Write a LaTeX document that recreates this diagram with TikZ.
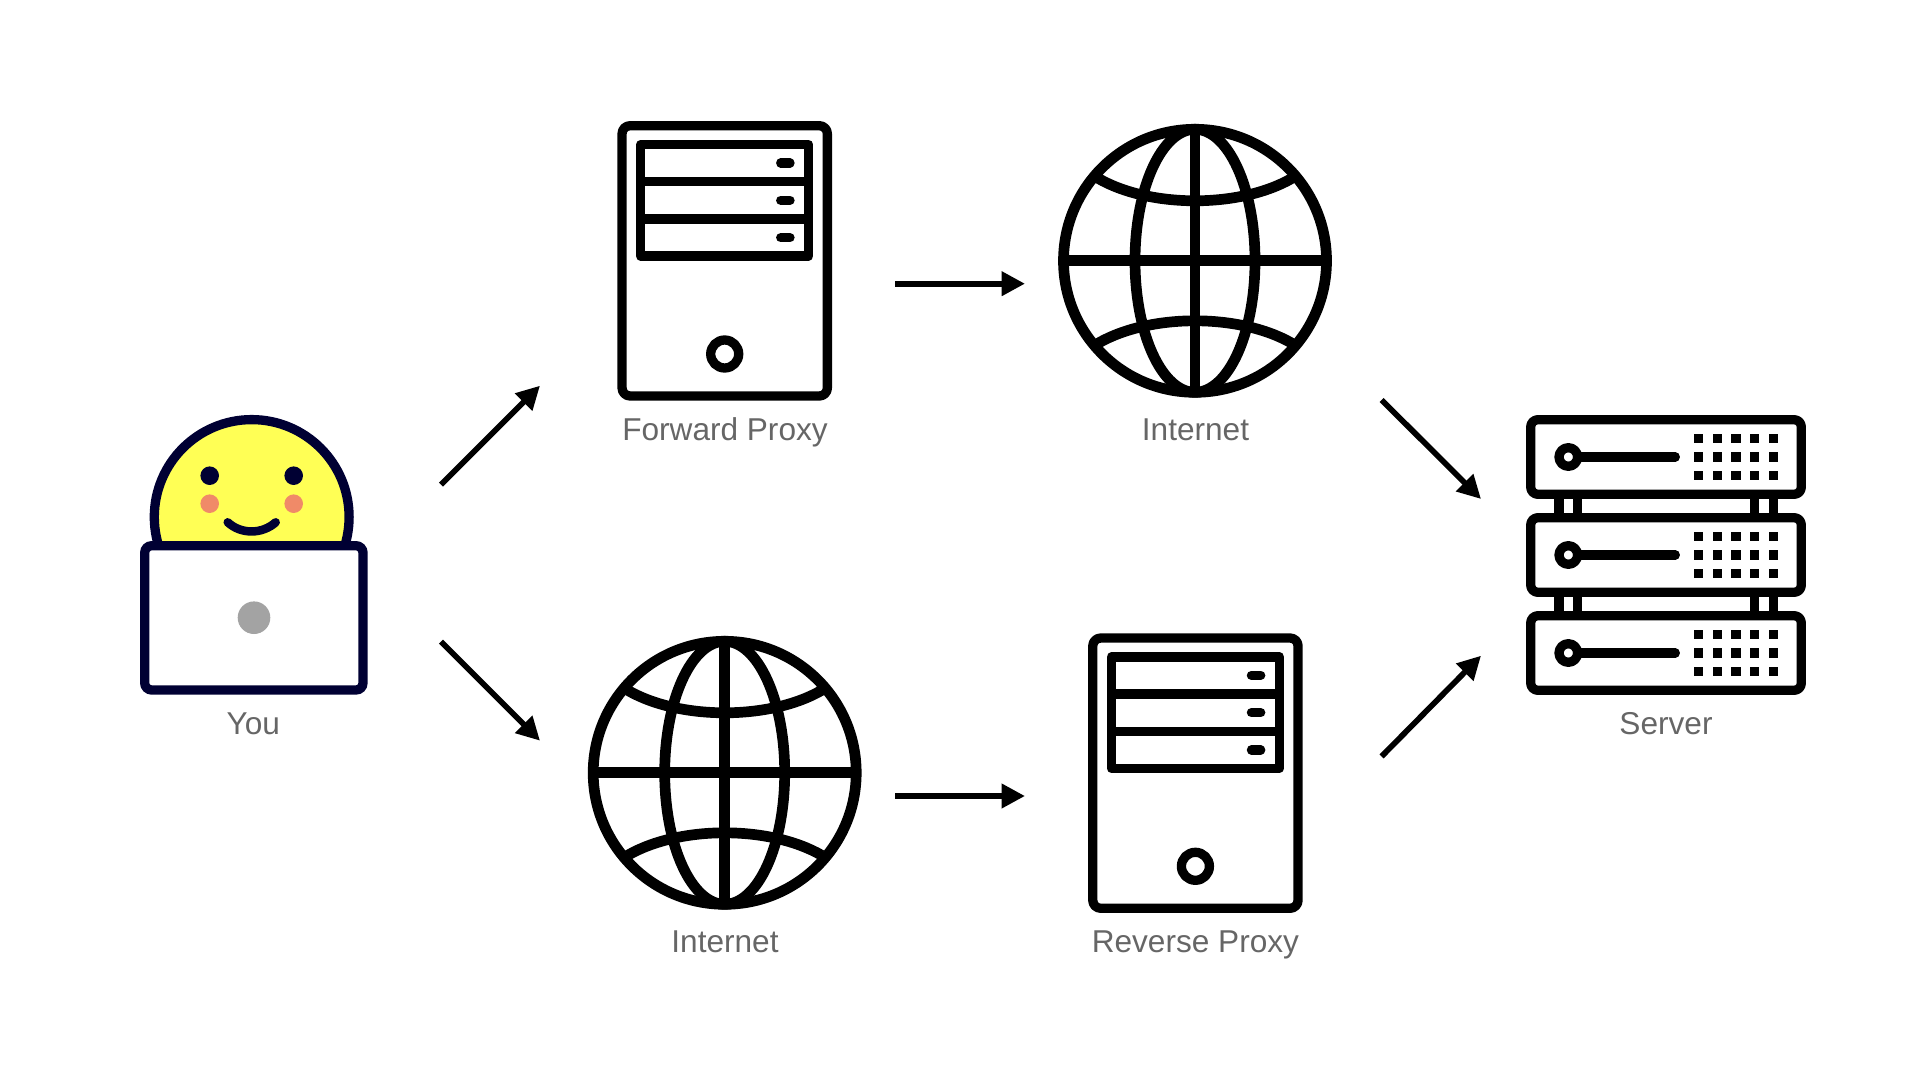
\documentclass[tikz,border=0pt]{standalone}
\usepackage{fontspec}
\usepackage{xcolor}
\usetikzlibrary{arrows.meta}
\setmainfont{Liberation Sans}

\definecolor{navyline}{HTML}{000033}
\definecolor{faceyellow}{HTML}{FFFF55}
\definecolor{cheekpink}{HTML}{F08A68}
\definecolor{dotgray}{HTML}{A3A3A3}
\definecolor{labelgray}{HTML}{666666}

\tikzset{
    iconline/.style={line width=4.65pt, line join=round},
    globeline/.style={line width=5.35pt},
    caption/.style={anchor=base, text=labelgray, font=\fontsize{15.8}{19}\selectfont, inner sep=0pt},
    flow/.style={line width=2.85pt, -{Triangle[length=11.65pt,width=11.65pt]}}
}

% Tower with three drive bays, #1 is its centre
\newcommand{\proxyicon}[1]{
    \begin{scope}[shift={(#1)}]
        \draw[iconline, rounded corners=4pt] (-102.65,-135.1) rectangle (102.65,135.2);
        \draw[iconline] (-84,-116.1) rectangle (84,-4.8);
        \draw[iconline] (-84,-79.1) -- (84,-79.1);
        \draw[iconline] (-84,-41.8) -- (84,-41.8);
        \foreach \bay in {-97.8,-60.5,-23.1} {
            \draw[iconline, line cap=round] (56,\bay) -- (65.3,\bay);
        }
        \draw[iconline] (0,93.2) circle[radius=14];
    \end{scope}
}

% Wire globe, #1 is its centre
\newcommand{\globeicon}[1]{
    \begin{scope}[shift={(#1)}]
        \draw[globeline] (0,0) circle[radius=131.5];
        \draw[globeline] (0,0) ellipse[x radius=60, y radius=131.5];
        \draw[globeline] (0,-131.5) -- (0,131.5);
        \draw[globeline] (-131.5,0) -- (131.5,0);
        \draw[globeline] (-97,-82.5) .. controls (-45,-52.5) and (45,-52.5) .. (97,-82.5);
        \draw[globeline] (-97,82.5) .. controls (-45,52.5) and (45,52.5) .. (97,82.5);
    \end{scope}
}

\begin{document}
\begin{tikzpicture}[x=0.5pt, y=-0.5pt]
    \useasboundingbox (0,0) rectangle (1920,1080);

    % You: face behind the laptop
    \draw[line width=4.65pt, draw=navyline, fill=faceyellow] (251.7,517) circle[radius=97.4];
    \fill[navyline] (209.7,475.7) circle[radius=9.3];
    \fill[navyline] (293.7,475.7) circle[radius=9.3];
    \fill[cheekpink] (209.7,503.7) circle[radius=9.3];
    \fill[cheekpink] (293.7,503.7) circle[radius=9.3];
    \draw[line width=4.25pt, draw=navyline, line cap=round] (227.7,522.3) .. controls (241,534.5) and (262,534.5) .. (275.7,522.3);
    \draw[line width=4.65pt, draw=navyline, fill=white, rounded corners=3.5pt] (144.7,545.7) rectangle (363,690);
    \fill[dotgray] (254,617.7) circle[radius=16.3];

    % Proxies and globes
    \proxyicon{724.7,260.8}
    \globeicon{1195,260.8}
    \globeicon{724.7,772.8}
    \proxyicon{1195.4,773.1}

    % Server: three units in a rack
    \foreach \unit in {0,98,196} {
        \begin{scope}[shift={(1666,457+\unit)}]
            \draw[iconline, rounded corners=3.6pt] (-135.3,-37.3) rectangle (135.3,37.3);
            \draw[iconline, line cap=round] (-97.7,0) -- (9.3,0);
            \draw[iconline, fill=white] (-97.7,0) circle[radius=9.3];
            \foreach \px in {32.7,51.3,70,88.7,107.3} {
                \foreach \py in {-18.7,0,18.7} {
                    \fill (\px-4.65,\py-4.65) rectangle (\px+4.65,\py+4.65);
                }
            }
        \end{scope}
    }
    \foreach \unit in {0,98} {
        \foreach \leg in {-107,-88.3,88.7,107.3} {
            \draw[iconline] (1666+\leg,494+\unit) -- (1666+\leg,518+\unit);
        }
    }

    % Labels
    \node[caption] (youlabel) at (253.3,734) {You};
    \node[caption] (fwdlabel) at (725,440) {Forward Proxy};
    \node[caption] (netlabelone) at (1195.5,440) {Internet};
    \node[caption] (netlabeltwo) at (725,952) {Internet};
    \node[caption] (revlabel) at (1195.4,952) {Reverse Proxy};
    \node[caption] (serverlabel) at (1666,734) {Server};

    % Arrow ends
    \coordinate (youup) at (441,484.7);
    \coordinate (fwdin) at (540,385.7);
    \coordinate (youdown) at (441,641.6);
    \coordinate (netin) at (540,740.7);
    \coordinate (fwdout) at (895,283.7);
    \coordinate (netonein) at (1025,283.7);
    \coordinate (netout) at (895,796);
    \coordinate (revin) at (1025,796);
    \coordinate (netoneout) at (1381.6,400);
    \coordinate (serverup) at (1481,499);
    \coordinate (revout) at (1381.6,756.4);
    \coordinate (serverdown) at (1481,655.7);

    % Arrows
    \draw[flow] (youup) -- (fwdin);
    \draw[flow] (youdown) -- (netin);
    \draw[flow] (fwdout) -- (netonein);
    \draw[flow] (netout) -- (revin);
    \draw[flow] (netoneout) -- (serverup);
    \draw[flow] (revout) -- (serverdown);
\end{tikzpicture}
\end{document}
